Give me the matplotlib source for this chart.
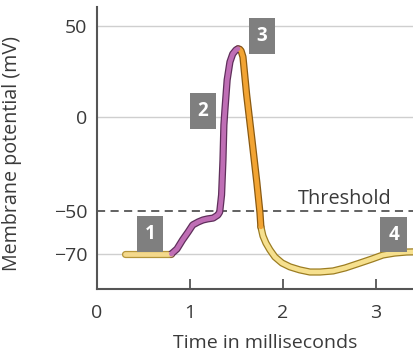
import numpy as np
import matplotlib
matplotlib.use("Agg")
import matplotlib.pyplot as plt

plt.rcParams['font.family'] = ['Open Sans', 'DejaVu Sans']

# Action potential trace, split into the coloured phases (time in ms, potential in mV)
rest_t = [0.30, 0.57, 0.80]
rest_v = [-70.0, -70.0, -70.0]

depol_t = [0.80, 0.86, 0.92, 0.98, 1.03, 1.09, 1.14, 1.19, 1.25, 1.30, 1.32,
           1.34, 1.355, 1.365, 1.376, 1.40, 1.43, 1.46, 1.495, 1.516]
depol_v = [-70.0, -67.7, -63.5, -59.8, -56.5, -55.1, -54.2, -53.7, -53.3, -51.9, -50.5,
           -41.5, -22.9, -4.3, 3.8, 20.3, 30.2, 34.6, 36.8, 37.4]

repol_t = [1.516, 1.535, 1.55, 1.57, 1.61, 1.667, 1.72, 1.753, 1.763]
repol_v = [37.4, 37.2, 36.3, 33.0, 12.1, -12.2, -35.1, -50.9, -57.4]

hyper_t = [1.763, 1.785, 1.817, 1.86, 1.914, 1.99, 2.075, 2.18, 2.29, 2.40, 2.54,
           2.67, 2.83, 2.96, 3.075, 3.20, 3.33, 3.45]
hyper_v = [-57.4, -61.6, -64.9, -68.1, -71.4, -74.2, -76.0, -77.4, -78.4, -78.4, -77.9,
           -76.5, -74.2, -72.3, -70.5, -69.6, -69.1, -69.0]

threshold = -50
y_ticks = [50, 0, -50, -70]
x_ticks = [0, 1, 2, 3]

phase_labels = ["1", "2", "3", "4"]
phase_label_t = [0.57, 1.14, 1.774, 3.19]
phase_label_v = [-60.6, 3.3, 44.5, -61.0]

# Schematic (non-uniform) voltage axis
knots_mv = [-120, -70, -50, 0, 50, 120]
knots_u = [-107.5, 0, 43, 137, 228, 355.4]


def fwd(v):
    return np.interp(v, knots_mv, knots_u)


def inv(u):
    return np.interp(u, knots_u, knots_mv)


fig = plt.figure(figsize=(4.14, 3.54), dpi=100)
ax = fig.add_axes([97 / 414, (354 - 289) / 354, (414 - 97) / 414, (289 - 7) / 354])
ax.set_yscale('function', functions=(fwd, inv))
ax.set_xlim(0, 3.41)
ax.set_ylim(-86.3, 60.4)

grey_text = '#3a3a3a'
axis_col = '#555555'

for v in [50, 0, -70]:
    ax.axhline(v, color='#cfcfcf', lw=1.0, zorder=1)
ax.axhline(threshold, color='#555555', lw=1.3, ls=(0, (4.5, 3)), zorder=1)

ax.text(2.67, -43.4, "Threshold", ha='center', va='center', fontsize=14.3,
        color=grey_text, zorder=3)

phases = [
    (rest_t, rest_v, '#f4d98c', '#b5953a'),
    (hyper_t, hyper_v, '#f6e08e', '#9c7d22'),
    (repol_t, repol_v, '#f2a433', '#8a5a12'),
    (depol_t, depol_v, '#bf6eb5', '#5f2f5b'),
]

# dark outlines first, coloured cores on top so the phases join seamlessly
for t, v, face, edge in phases:
    ax.plot(t, v, color=edge, lw=5.2, solid_capstyle='round',
            solid_joinstyle='round', zorder=4)
for t, v, face, edge in phases:
    ax.plot(t, v, color=face, lw=3.4, solid_capstyle='round',
            solid_joinstyle='round', zorder=5)

for lab, t, v in zip(phase_labels, phase_label_t, phase_label_v):
    ax.text(t, v, lab, ha='center', va='center', fontsize=13.5, fontweight='bold',
            color='white', zorder=6,
            bbox=dict(boxstyle='square,pad=0.42', fc='#7f7f7f', ec='none'))

ax.set_yticks(y_ticks)
ax.set_yticklabels([f"{v}".replace('-', '\u2212') for v in y_ticks])
ax.set_xticks(x_ticks)
ax.set_xticklabels([str(x) for x in x_ticks])

ax.tick_params(axis='y', length=0, pad=7, labelsize=14, labelcolor=grey_text)
ax.tick_params(axis='x', direction='in', length=7, width=1.3, color=axis_col,
               pad=11, labelsize=14, labelcolor=grey_text)

for s in ['top', 'right']:
    ax.spines[s].set_visible(False)
for s in ['left', 'bottom']:
    ax.spines[s].set_color(axis_col)
    ax.spines[s].set_linewidth(1.5)

ax.set_ylabel("Membrane potential (mV)", fontsize=14.2, color=grey_text)
ax.yaxis.set_label_coords(-(97 - 22) / 317, 0.48)
ax.set_xlabel("Time in milliseconds", fontsize=14, color=grey_text)
ax.xaxis.set_label_coords((265 - 97) / 317, -(334 - 289) / 282)

fig.savefig("out.png", dpi=100)
